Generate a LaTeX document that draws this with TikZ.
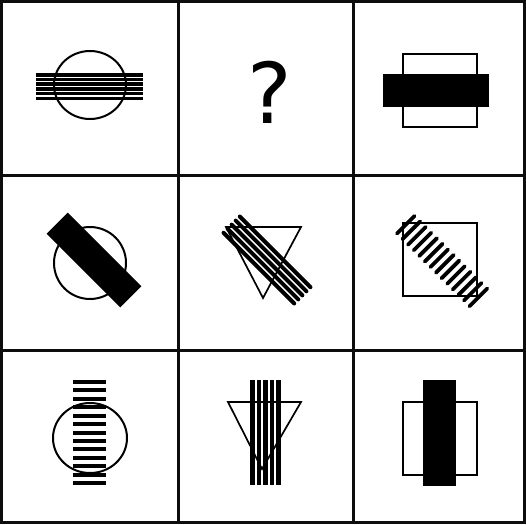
\documentclass[tikz,border=0pt]{standalone}
\usepackage{fontspec}
\setmainfont{Liberation Sans}
\newfontfamily\qfont{DejaVu Sans}
\begin{document}
\begin{tikzpicture}[x=1pt,y=-1pt,
  grid/.style={line width=3pt,draw=black!95},
  outline/.style={line width=1.7pt,draw=black},
  roundline/.style={line width=2pt,draw=black},
  barfill/.style={fill=black},
  stripe/.style={line width=3.6pt},
  dashmark/.style={line width=3.8pt,line cap=round}]
\useasboundingbox (0,0) rectangle (526,524);
\fill[white] (0,0) rectangle (526,524);
% grid
\draw[grid] (1.5,1.5) rectangle (524.5,522);
\draw[grid] (178,1.5) -- (178,522);
\draw[grid] (353,1.5) -- (353,522);
\draw[grid] (1.5,175) -- (524.5,175);
\draw[grid] (1.5,350) -- (524.5,350);
% cell 1
\draw[roundline] (90,85) ellipse [x radius=36,y radius=34];
\foreach \i in {0,...,5}{
  \draw[stripe] (36,74.8+4.7*\i) -- (143,74.8+4.7*\i);
}
% cell 2
\node[inner sep=0pt] (q) at (270,92) {\qfont\fontsize{84}{90}\selectfont ?};
% cell 3
\draw[outline] (403,54) rectangle (477,127);
\fill[barfill] (383,74) rectangle (489,107);
% cell 4  (band along (1,1), perpendicular (1,-1), image coords)
\draw[roundline] (90,263) circle [radius=36];
\fill[barfill] ({94+0.7071*(-52-15)},{260+0.7071*(-52+15)})
  -- ({94+0.7071*(-52+15)},{260+0.7071*(-52-15)})
  -- ({94+0.7071*(52+15)},{260+0.7071*(52-15)})
  -- ({94+0.7071*(52-15)},{260+0.7071*(52+15)}) -- cycle;
% cell 5
\draw[outline,line join=miter] (226,227) -- (301,227) -- (263,298) -- cycle;
\foreach \k in {-11.5,-5.75,0,5.75,11.5}{
  \draw[stripe,line width=4pt,line cap=round]
    ({267+0.7071*(-50+\k)},{260+0.7071*(-50-\k)}) --
    ({267+0.7071*(50+\k)},{260+0.7071*(50-\k)});
}
% cell 6
\draw[outline] (403,223) rectangle (477,296);
\foreach \i in {0,...,13}{
  \pgfmathsetmacro{\s}{-51.3+7.9*\i}
  \draw[dashmark]
    ({442+0.7071*(\s-12.5)},{261+0.7071*(\s+12.5)}) --
    ({442+0.7071*(\s+12.5)},{261+0.7071*(\s-12.5)});
}
% cell 7
\draw[roundline] (90,438) ellipse [x radius=37,y radius=35];
\foreach \i in {0,...,12}{
  \draw[stripe,line width=4pt] (73,382+8.42*\i) -- (106,382+8.42*\i);
}
% cell 8
\draw[outline,line join=miter] (228,402) -- (301,402) -- (262,469) -- cycle;
\foreach \i in {0,...,4}{
  \draw[stripe,line width=4.5pt] (252.25+6.6*\i,380) -- (252.25+6.6*\i,485);
}
% cell 9
\draw[outline] (403,402) rectangle (477,475);
\fill[barfill] (423,380) rectangle (456,486);
\end{tikzpicture}
\end{document}
